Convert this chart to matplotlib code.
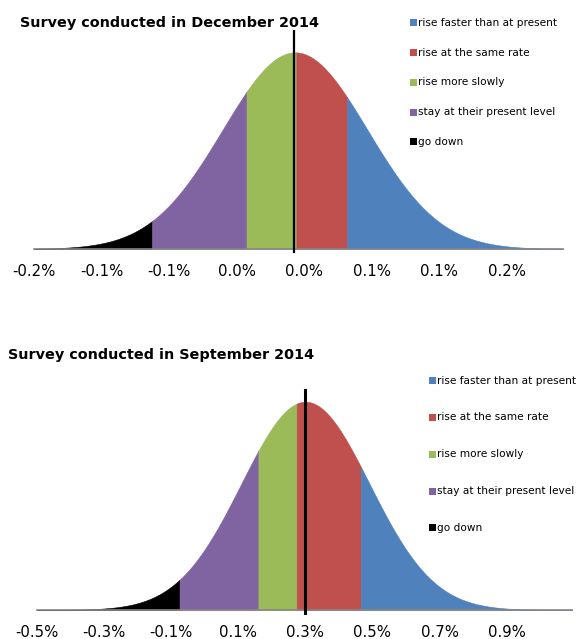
import numpy as np
import matplotlib.pyplot as plt
from matplotlib.patches import Rectangle

# December 2014 survey: region edges (left to right), normal curve, survey line
dec_edges = [-0.19, -0.094, -0.017, 0.0236, 0.065, 0.241]
dec_mean, dec_sd = 0.0225, 0.059
dec_line = 0.022
dec_ticks = [-0.19, -0.135, -0.08, -0.025, 0.03, 0.085, 0.14, 0.195]
dec_ticklabels = ['-0.2%', '-0.1%', '-0.1%', '0.0%', '0.0%', '0.1%', '0.1%', '0.2%']

# September 2014 survey
sep_edges = [-0.5, -0.075, 0.160, 0.274, 0.465, 1.096]
sep_mean, sep_sd = 0.30, 0.191
sep_line = 0.30
sep_ticks = [-0.5, -0.3, -0.1, 0.1, 0.3, 0.5, 0.7, 0.9]
sep_ticklabels = ['-0.5%', '-0.3%', '-0.1%', '0.1%', '0.3%', '0.5%', '0.7%', '0.9%']

segment_colors = ['#000000', '#8064A2', '#9BBB59', '#C0504D', '#4F81BD']
legend_labels = ['rise faster than at present', 'rise at the same rate',
                 'rise more slowly', 'stay at their present level', 'go down']
legend_colors = ['#4F81BD', '#C0504D', '#9BBB59', '#8064A2', '#000000']

W, H = 579, 639
fig = plt.figure(figsize=(W / 100, H / 100), dpi=100)


def box(left, right, base_y, top_y):
    return [left / W, 1 - base_y / H, (right - left) / W, (base_y - top_y) / H]


def panel(rect, edges, mean, sd, line_x, ticks, labels, peak_frac, line_w):
    ax = fig.add_axes(rect)
    for a, b, c in zip(edges[:-1], edges[1:], segment_colors):
        xs = np.linspace(a, b, 300)
        ys = np.exp(-0.5 * ((xs - mean) / sd) ** 2)
        ax.fill_between(xs, 0, ys, facecolor=c, edgecolor=c, lw=0.4)
    ax.set_xlim(edges[0], edges[-1])
    ax.set_ylim(0, 1 / peak_frac)
    ax.axvline(line_x, ymin=-0.015, ymax=1, color='black', lw=line_w,
               clip_on=False, zorder=5)
    for s in ['top', 'left', 'right']:
        ax.spines[s].set_visible(False)
    ax.spines['bottom'].set_color('#868686')
    ax.spines['bottom'].set_linewidth(1.2)
    ax.set_yticks([])
    ax.set_xticks(ticks, labels)
    ax.tick_params(axis='x', length=0, pad=10.5, labelsize=10.7)
    ax.patch.set_visible(False)
    return ax


def legend(x, y0, pitch):
    for i, (lab, c) in enumerate(zip(legend_labels, legend_colors)):
        y = y0 + i * pitch
        fig.patches.append(Rectangle((x / W, 1 - (y + 3.5) / H), 7 / W, 7 / H,
                                     facecolor=c, edgecolor='none',
                                     transform=fig.transFigure))
        fig.text((x + 8) / W, 1 - y / H, lab, fontsize=7.6, va='center', ha='left')


panel(box(34.3, 563, 249, 30.7), dec_edges, dec_mean, dec_sd, dec_line,
      dec_ticks, dec_ticklabels, 196.7 / 218.3, 1.6)
fig.text(20 / W, 1 - 23 / H, 'Survey conducted in December 2014',
         fontsize=10.4, fontweight='bold', va='center', ha='left')
legend(410, 22.7, 29.8)

panel(box(37, 572.4, 610, 390), sep_edges, sep_mean, sep_sd, sep_line,
      sep_ticks, sep_ticklabels, 208.3 / 220, 2.2)
fig.text(8 / W, 1 - 355 / H, 'Survey conducted in September 2014',
         fontsize=10.4, fontweight='bold', va='center', ha='left')
legend(429, 380.7, 36.8)

fig.savefig('out.png', dpi=100)
